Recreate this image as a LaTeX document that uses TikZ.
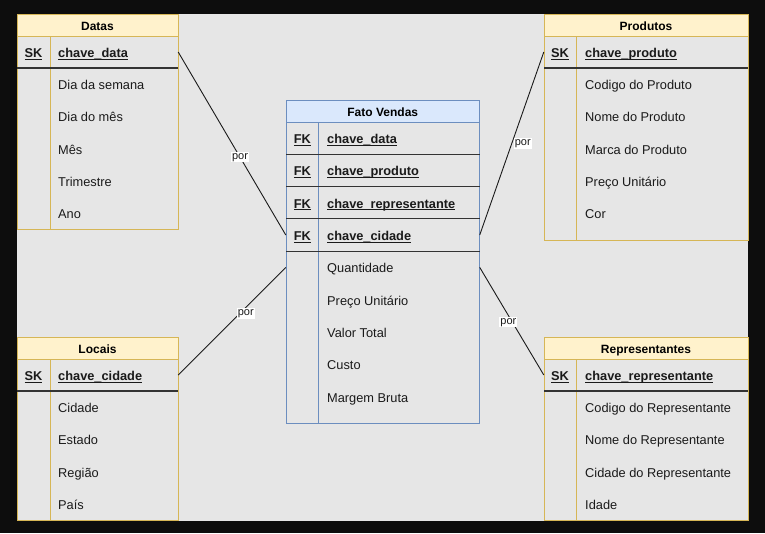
\documentclass[tikz,border=0pt]{standalone}
\usepackage{fontspec}
\setmainfont{Liberation Sans}
\usepackage{tikz}
\definecolor{frame}{HTML}{0D0D0D}
\definecolor{bg}{HTML}{E6E6E6}
\definecolor{ylwline}{HTML}{D6B656}
\definecolor{ylwfill}{HTML}{FFF2CC}
\definecolor{bluline}{HTML}{6C8EBF}
\definecolor{blufill}{HTML}{DAE8FC}
\definecolor{txt}{HTML}{1A1A1A}
\definecolor{sep}{HTML}{333333}
\newcommand\keyul[1]{\setbox0\hbox{#1}\rlap{\rule[-1.9pt]{\wd0}{0.9pt}}\box0}
\tikzset{
	thead/.style 2 args={rectangle,draw=#1,fill=#2,line width=0.9pt,inner sep=0pt,minimum height=22pt,text=black,font=\bfseries\fontsize{12}{14}\selectfont,text height=10pt,text depth=0pt},
	tbody/.style={rectangle,draw=#1,line width=0.9pt,inner sep=0pt},
	row/.style={rectangle,inner sep=0pt,minimum height=32pt},
	key/.style={inner sep=0pt,text=txt,font=\bfseries\fontsize{12.8}{15}\selectfont,text height=11pt,text depth=0pt},
	field/.style={inner sep=0pt,anchor=west,text=txt,font=\fontsize{12.8}{15}\selectfont,text height=11pt,text depth=0pt},
	keyfield/.style={key,anchor=west},
	por/.style={fill=white,inner sep=1pt,text=txt,font=\fontsize{11}{13}\selectfont},
	rel/.style={draw=txt,line width=0.9pt}
}
\begin{document}
\begin{tikzpicture}[x=1pt,y=-1pt]
\useasboundingbox (0,0) rectangle (765,533);
\fill[frame] (0,0) rectangle (765,533);
\fill[bg] (17,14) rectangle (748,521);

\node [tbody=ylwline, minimum width=161pt, minimum height=193pt] (datas-body) at (97.5,132.5) {};
\node [thead={ylwline}{ylwfill}, minimum width=161pt] (datas) at (97.5,25) {Datas};
\draw [ylwline, line width=0.9pt] (50,36) -- (50,229.3);
\draw [sep, line width=1.1pt] (17,68) -- (178,68);
\node [row, minimum width=161pt] (datas-sk) at (97.5,52) {};
\node [key] (datas-tag) at (33.5,52) {\keyul{SK}};
\node [keyfield] (datas-key) at (58,52) {\keyul{chave\_data}};
\node [field] (datas-f1) at (58,84) {Dia da semana};
\node [field] (datas-f2) at (58,116.25) {Dia do mês};
\node [field] (datas-f3) at (58,148.5) {Mês};
\node [field] (datas-f4) at (58,180.75) {Trimestre};
\node [field] (datas-f5) at (58,213) {Ano};

\node [tbody=ylwline, minimum width=161pt, minimum height=161pt] (locais-body) at (97.5,439.5) {};
\node [thead={ylwline}{ylwfill}, minimum width=161pt] (locais) at (97.5,348) {Locais};
\draw [ylwline, line width=0.9pt] (50,359) -- (50,520);
\draw [sep, line width=1.1pt] (17,391) -- (178,391);
\node [row, minimum width=161pt] (locais-sk) at (97.5,375) {};
\node [key] (locais-tag) at (33.5,375) {\keyul{SK}};
\node [keyfield] (locais-key) at (58,375) {\keyul{chave\_cidade}};
\node [field] (locais-f1) at (58,407) {Cidade};
\node [field] (locais-f2) at (58,439.25) {Estado};
\node [field] (locais-f3) at (58,471.5) {Região};
\node [field] (locais-f4) at (58,503.75) {País};

\node [tbody=ylwline, minimum width=204pt, minimum height=204pt] (produtos-body) at (646,138) {};
\node [thead={ylwline}{ylwfill}, minimum width=204pt] (produtos) at (646,25) {Produtos};
\draw [ylwline, line width=0.9pt] (576,36) -- (576,240);
\draw [sep, line width=1.1pt] (544,68) -- (748,68);
\node [row, minimum width=204pt] (produtos-sk) at (646,52) {};
\node [key] (produtos-tag) at (560,52) {\keyul{SK}};
\node [keyfield] (produtos-key) at (585,52) {\keyul{chave\_produto}};
\node [field] (produtos-f1) at (585,84) {Codigo do Produto};
\node [field] (produtos-f2) at (585,116.25) {Nome do Produto};
\node [field] (produtos-f3) at (585,148.5) {Marca do Produto};
\node [field] (produtos-f4) at (585,180.75) {Preço Unitário};
\node [field] (produtos-f5) at (585,213) {Cor};

\node [tbody=ylwline, minimum width=204pt, minimum height=161pt] (repr-body) at (646,439.5) {};
\node [thead={ylwline}{ylwfill}, minimum width=204pt] (repr) at (646,348) {Representantes};
\draw [ylwline, line width=0.9pt] (576,359) -- (576,520);
\draw [sep, line width=1.1pt] (544,391) -- (748,391);
\node [row, minimum width=204pt] (repr-sk) at (646,375) {};
\node [key] (repr-tag) at (560,375) {\keyul{SK}};
\node [keyfield] (repr-key) at (585,375) {\keyul{chave\_representante}};
\node [field] (repr-f1) at (585,407) {Codigo do Representante};
\node [field] (repr-f2) at (585,439.25) {Nome do Representante};
\node [field] (repr-f3) at (585,471.5) {Cidade do Representante};
\node [field] (repr-f4) at (585,503.75) {Idade};

\node [tbody=bluline, minimum width=193.5pt, minimum height=301pt] (fato-body) at (382.75,272.5) {};
\node [thead={bluline}{blufill}, minimum width=193.5pt] (fato) at (382.75,111) {Fato Vendas};
\draw [bluline, line width=0.9pt] (318.7,122) -- (318.7,423);
\draw [sep, line width=1.1pt] (286,154.3) -- (479.5,154.3);
\draw [sep, line width=1.1pt] (286,186.6) -- (479.5,186.6);
\draw [sep, line width=1.1pt] (286,218.9) -- (479.5,218.9);
\draw [sep, line width=1.1pt] (286,251.2) -- (479.5,251.2);
\node [row, minimum width=193.5pt] (fato-cidade) at (382.75,235.05) {};
\node [row, minimum width=193.5pt] (fato-qtd) at (382.75,267.35) {};
\node [key] (fato-tag1) at (302.3,138.15) {\keyul{FK}};
\node [key] (fato-tag2) at (302.3,170.45) {\keyul{FK}};
\node [key] (fato-tag3) at (302.3,202.75) {\keyul{FK}};
\node [key] (fato-tag4) at (302.3,235.05) {\keyul{FK}};
\node [keyfield] (fato-k1) at (327,138.15) {\keyul{chave\_data}};
\node [keyfield] (fato-k2) at (327,170.45) {\keyul{chave\_produto}};
\node [keyfield] (fato-k3) at (327,202.75) {\keyul{chave\_representante}};
\node [keyfield] (fato-k4) at (327,235.05) {\keyul{chave\_cidade}};
\node [field] (fato-f1) at (327,267.35) {Quantidade};
\node [field] (fato-f2) at (327,299.65) {Preço Unitário};
\node [field] (fato-f3) at (327,331.95) {Valor Total};
\node [field] (fato-f4) at (327,364.25) {Custo};
\node [field] (fato-f5) at (327,396.55) {Margem Bruta};

\draw [rel] (datas-sk.east) -- node [por, pos=0.575] (por1) {por} (fato-cidade.west);
\draw [rel] (locais-sk.east) -- node [por, pos=0.6, xshift=3pt, yshift=-3pt] (por2) {por} (fato-qtd.west);
\draw [rel] (fato-cidade.east) -- node [por, pos=0.5, xshift=11pt] (por3) {por} (produtos-sk.west);
\draw [rel] (fato-qtd.east) -- node [por, pos=0.51, xshift=-4pt] (por4) {por} (repr-sk.west);
\end{tikzpicture}
\end{document}
